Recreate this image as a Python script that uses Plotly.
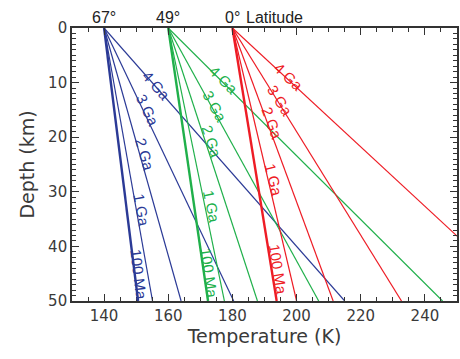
import math
import plotly.graph_objects as go

# ---- data ----
lat_labels = ["67°", "49°", "0°"]
surface_T = [140, 160, 180]
ages = ["100 Ma", "1 Ga", "2 Ga", "3 Ga", "4 Ga"]
depth_ends = [0, 50]
T50_blue = [150.6, 155.1, 164.0, 180.4, 215.0]
T50_green = [172.4, 177.5, 187.8, 206.9, 245.5]
T50_red = [193.8, 200.0, 211.4, 232.7, 271.9]
label_x_blue = [150.9, 151.6, 152.7, 153.4, 156.3]
label_d_blue = [45.1, 33.3, 23.2, 15.0, 10.5]
label_x_green = [172.7, 173.5, 173.5, 174.5, 177.1]
label_d_green = [44.8, 32.7, 20.8, 14.4, 9.5]
label_x_red = [194.3, 192.8, 192.5, 194.9, 197.4]
label_d_red = [44.2, 27.8, 17.4, 13.2, 8.9]
x_ticks = [140, 160, 180, 200, 220, 240]
y_ticks = [0, 10, 20, 30, 40, 50]

colors = ["#2B3A96", "#20B04B", "#EE1C25"]
T50_all = [T50_blue, T50_green, T50_red]
lx_all = [label_x_blue, label_x_green, label_x_red]
ld_all = [label_d_blue, label_d_green, label_d_red]

W, H = 460, 359
ml, mr, mt, mb = 72, 1, 28, 58
xr = [130, 250]
yr = [50, 0]
ppx = (W - ml - mr) / (xr[1] - xr[0])
ppy = (H - mt - mb) / (yr[0] - yr[1])

fig = go.Figure()
ann = []
for T0, T50s, col, lxs, lds in zip(surface_T, T50_all, colors, lx_all, ld_all):
    for i, (age, T50) in enumerate(zip(ages, T50s)):
        fig.add_trace(go.Scatter(
            x=[T0, T50], y=depth_ends, mode="lines",
            line=dict(color=col, width=2.4 if i == 0 else 1.2),
            showlegend=False, hoverinfo="skip", cliponaxis=True))
        ang = math.degrees(math.atan2((depth_ends[1] - depth_ends[0]) * ppy,
                                      (T50 - T0) * ppx))
        ann.append(dict(x=lxs[i], y=lds[i], xref="x", yref="y", text=age,
                        showarrow=False, textangle=ang,
                        font=dict(family="Liberation Sans, Arial", size=15, color=col)))

for lab, T0 in zip(lat_labels, surface_T):
    ann.append(dict(x=T0, y=1, xref="x", yref="paper", text=lab, showarrow=False,
                    xanchor="center", yanchor="bottom", yshift=0,
                    font=dict(family="Liberation Sans, Arial", size=16, color="#222")))
ann.append(dict(x=183.6, y=1, xref="x", yref="paper", text="Latitude", showarrow=False,
                xanchor="left", yanchor="bottom", yshift=0,
                font=dict(family="Liberation Sans, Arial", size=16, color="#222")))

axis_common = dict(showline=True, linecolor="#333", linewidth=1.6, mirror="allticks",
                   ticks="inside", tickcolor="#333", tickwidth=1.2, ticklen=7,
                   showgrid=False, zeroline=False,
                   tickfont=dict(family="DejaVu Sans", size=15, color="#3a3a3a"))

fig.update_layout(
    width=W, height=H, margin=dict(l=ml, r=mr, t=mt, b=mb),
    paper_bgcolor="white", plot_bgcolor="white",
    annotations=ann,
    xaxis=dict(range=xr, tickvals=x_ticks, **axis_common,
               minor=dict(ticks="inside", dtick=5, ticklen=4, tickcolor="#333", tickwidth=1),
               title=dict(text="Temperature (K)", standoff=6,
                          font=dict(family="DejaVu Sans", size=19, color="#3a3a3a"))),
    yaxis=dict(range=yr, tickvals=y_ticks, **axis_common,
               minor=dict(ticks="inside", dtick=1, ticklen=4, tickcolor="#333", tickwidth=1),
               title=dict(text="Depth (km)", standoff=8,
                          font=dict(family="DejaVu Sans", size=19, color="#3a3a3a"))),
)
fig.write_html("out.html")
